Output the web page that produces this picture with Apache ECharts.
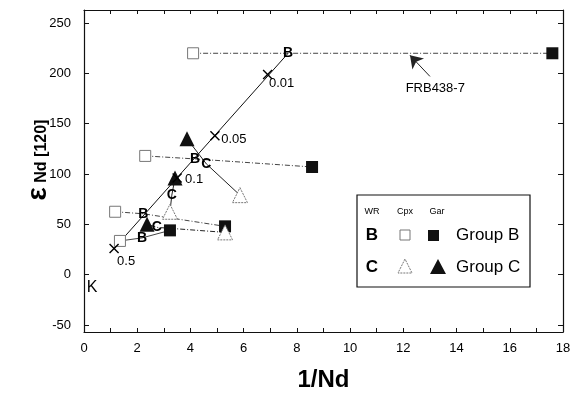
<!DOCTYPE html>
<html>
<head>
<meta charset="utf-8">
<script src="https://cdn.jsdelivr.net/npm/echarts@6/dist/echarts.min.js"></script>
<style>
  html, body { margin: 0; padding: 0; background: #fff; }
  #chart-container { width: 581px; height: 397px; }
</style>
</head>
<body>
<div id="chart-container"></div>
<script>
var dom = document.getElementById('chart-container');
var myChart = echarts.init(dom, null, { renderer: 'canvas' });

// Group B samples: [1/Nd, eNd]
var bCpx = [[4.1, 220], [2.3, 118], [1.17, 62.5], [1.35, 33.5]];
var bWr = [[7.67, 220], [4.17, 115], [2.23, 60.5], [2.18, 36.5]];
var bGar = [[17.6, 220], [8.57, 107], [5.3, 48], [3.23, 44]];
// Group C samples
var cCpx = [[5.86, 79], [3.23, 62.5], [5.3, 42]];
var cWr = [[4.6, 110], [3.3, 79], [2.74, 47]];
var cGar = [[3.87, 135], [3.42, 96], [2.37, 50]];
// mixing line, X marks and their fractions
var mixPts = [[1.13, 26], [3.5, 96], [4.92, 138], [6.9, 199]];
var mixNames = ['0.5', '0.1', '0.05', '0.01'];
var notePt = [13.2, 185];
var arrowFrom = [13.0, 197];
var arrowTo = [12.25, 218];
var kPt = [0.3, -12.5];
var yTicks = [-50, 0, 50, 100, 150, 200, 250];

var font = 'Liberation Sans, Arial, sans-serif';
var dash = [5, 2, 1, 2];

var series = [];

// sample tie lines: cpx - wr - gar
bCpx.forEach(function (p, i) {
  series.push({
    type: 'line', data: [p, bWr[i], bGar[i]], showSymbol: false, silent: true,
    lineStyle: { color: '#444', width: 1, type: i === 3 ? 'solid' : dash }, z: 1
  });
});
cCpx.forEach(function (p, i) {
  series.push({
    type: 'line', data: [p, cWr[i], cGar[i]], showSymbol: false, silent: true,
    lineStyle: { color: '#222', width: 1, type: i === 2 ? dash : 'solid' }, z: 1
  });
});

// mixing line from the 0.5 mark to the top WR point
series.push({
  type: 'line', data: [mixPts[0], bWr[0]], showSymbol: false, silent: true,
  lineStyle: { color: '#111', width: 1 }, z: 1
});

// arrow to FRB438-7
series.push({
  type: 'line', data: [], silent: true,
  markLine: {
    silent: true, symbol: ['none', 'arrow'], symbolSize: 12,
    lineStyle: { color: '#222', width: 1, type: 'solid' },
    label: { show: false },
    data: [[{ coord: arrowFrom }, { coord: arrowTo }]]
  }
});

series.push({
  name: 'Cpx B', type: 'scatter', data: bCpx, symbol: 'rect', symbolSize: 11,
  itemStyle: { color: '#fff', borderColor: '#777', borderWidth: 1, opacity: 1 }, z: 3
});
series.push({
  name: 'Gar B', type: 'scatter', data: bGar, symbol: 'rect', symbolSize: 12,
  itemStyle: { color: '#111', opacity: 1 }, z: 3
});
series.push({
  name: 'Cpx C', type: 'scatter', data: cCpx, symbol: 'triangle', symbolSize: 15,
  itemStyle: { color: '#fff', borderColor: '#777', borderWidth: 1, borderType: [2, 1], opacity: 1 }, z: 3
});
series.push({
  name: 'Gar C', type: 'scatter', data: cGar, symbol: 'triangle', symbolSize: 15,
  itemStyle: { color: '#111', opacity: 1 }, z: 3
});

function letterSeries(data, letter) {
  return {
    type: 'scatter', data: data, symbol: 'rect', symbolSize: 10,
    itemStyle: { color: 'rgba(0,0,0,0)', opacity: 1 }, z: 4,
    label: {
      show: true, position: 'inside', formatter: letter, color: '#000',
      fontFamily: font, fontWeight: 'bold', fontSize: 14
    }
  };
}
series.push(letterSeries(bWr, 'B'));
series.push(letterSeries(cWr, 'C'));

var mixOffsets = [[12, 13], [17, 1], [19, 4], [14, 9]];
series.push({
  type: 'scatter', symbol: 'path://M0,1L1,0L5,4L9,0L10,1L6,5L10,9L9,10L5,6L1,10L0,9L4,5Z',
  symbolSize: 10, itemStyle: { color: '#000', opacity: 1 }, z: 4,
  data: mixPts.map(function (p, i) {
    return {
      value: p,
      label: { show: true, formatter: mixNames[i], position: 'inside', offset: mixOffsets[i] }
    };
  }),
  label: { color: '#000', fontFamily: font, fontSize: 13 }
});

series.push({
  type: 'scatter', symbolSize: 1, itemStyle: { color: 'rgba(0,0,0,0)', opacity: 1 },
  data: [notePt],
  label: { show: true, position: 'inside', formatter: 'FRB438-7', color: '#000', fontFamily: font, fontSize: 13 }
});
series.push({
  type: 'scatter', symbolSize: 1, itemStyle: { color: 'rgba(0,0,0,0)', opacity: 1 },
  data: [kPt],
  label: { show: true, position: 'inside', formatter: 'K', color: '#000', fontFamily: font, fontSize: 16 }
});

var axisText = { color: '#000', fontFamily: font, fontSize: 13 };

var option = {
  backgroundColor: '#fff',
  animation: false,
  grid: { left: 84, right: 18, top: 10, bottom: 55 },
  xAxis: [{
    type: 'value', min: 0, max: 18, interval: 1,
    name: '1/Nd', nameLocation: 'middle', nameGap: 36,
    nameTextStyle: { color: '#000', fontFamily: font, fontSize: 24, fontWeight: 'bold' },
    axisLine: { onZero: false, lineStyle: { color: '#111', width: 1.2 } },
    axisTick: { inside: true, length: 4, lineStyle: { color: '#111' } },
    axisLabel: Object.assign({ margin: 10, formatter: function (v) { return v % 2 ? '' : v; } }, axisText),
    splitLine: { show: false }
  }, {
    type: 'value', min: 0, max: 18, interval: 1, position: 'top',
    axisLine: { show: true, onZero: false, lineStyle: { color: '#111', width: 1.2 } },
    axisTick: { inside: true, length: 4, lineStyle: { color: '#111' } },
    axisLabel: { show: false }, splitLine: { show: false }
  }],
  yAxis: [{
    type: 'value', min: -57, max: 263,
    axisLine: { show: true, onZero: false, lineStyle: { color: '#111', width: 1.2 } },
    axisTick: { inside: true, length: 5, customValues: yTicks, lineStyle: { color: '#111' } },
    axisLabel: Object.assign({ margin: 13, customValues: yTicks }, axisText),
    splitLine: { show: false }
  }, {
    type: 'value', min: -57, max: 263, position: 'right',
    axisLine: { show: true, onZero: false, lineStyle: { color: '#111', width: 1.2 } },
    axisTick: { inside: true, length: 5, customValues: yTicks, lineStyle: { color: '#111' } },
    axisLabel: { show: false }, splitLine: { show: false }
  }],
  graphic: [
    {
      type: 'text', x: 38, y: 160, rotation: Math.PI / 2,
      style: {
        text: '{e|ε}{s| Nd [120]}', align: 'center', verticalAlign: 'middle',
        rich: {
          e: { fontFamily: font, fontSize: 28, fontWeight: 'bold', fill: '#000' },
          s: { fontFamily: font, fontSize: 16, fontWeight: 'bold', fill: '#000', padding: [8, 0, 0, 0] }
        }
      }
    },
    {
      type: 'rect', shape: { x: 357, y: 195, width: 173, height: 92 },
      style: { fill: '#fff', stroke: '#111', lineWidth: 1.2 }, z: 10
    },
    { type: 'text', x: 372, y: 212, z: 11, style: { text: 'WR', fontFamily: font, fontSize: 9, fill: '#000', align: 'center', verticalAlign: 'middle' } },
    { type: 'text', x: 405, y: 212, z: 11, style: { text: 'Cpx', fontFamily: font, fontSize: 9, fill: '#000', align: 'center', verticalAlign: 'middle' } },
    { type: 'text', x: 437, y: 212, z: 11, style: { text: 'Gar', fontFamily: font, fontSize: 9, fill: '#000', align: 'center', verticalAlign: 'middle' } },
    { type: 'text', x: 372, y: 235, z: 11, style: { text: 'B', fontFamily: font, fontSize: 17, fontWeight: 'bold', fill: '#000', align: 'center', verticalAlign: 'middle' } },
    { type: 'text', x: 372, y: 267, z: 11, style: { text: 'C', fontFamily: font, fontSize: 17, fontWeight: 'bold', fill: '#000', align: 'center', verticalAlign: 'middle' } },
    { type: 'rect', z: 11, shape: { x: 400, y: 230, width: 10, height: 10 }, style: { fill: '#fff', stroke: '#777', lineWidth: 1 } },
    { type: 'rect', z: 11, shape: { x: 428, y: 230, width: 11, height: 11 }, style: { fill: '#111' } },
    { type: 'polygon', z: 11, shape: { points: [[405, 259], [398, 273], [412, 273]] }, style: { fill: '#fff', stroke: '#777', lineWidth: 1, lineDash: [2, 1] } },
    { type: 'polygon', z: 11, shape: { points: [[438, 259], [430, 274], [446, 274]] }, style: { fill: '#111' } },
    { type: 'text', x: 456, y: 235, z: 11, style: { text: 'Group B', fontFamily: font, fontSize: 17, fill: '#000', verticalAlign: 'middle' } },
    { type: 'text', x: 456, y: 267, z: 11, style: { text: 'Group C', fontFamily: font, fontSize: 17, fill: '#000', verticalAlign: 'middle' } }
  ],
  series: series
};

myChart.setOption(option);
window.addEventListener('resize', myChart.resize);
</script>
</body>
</html>
